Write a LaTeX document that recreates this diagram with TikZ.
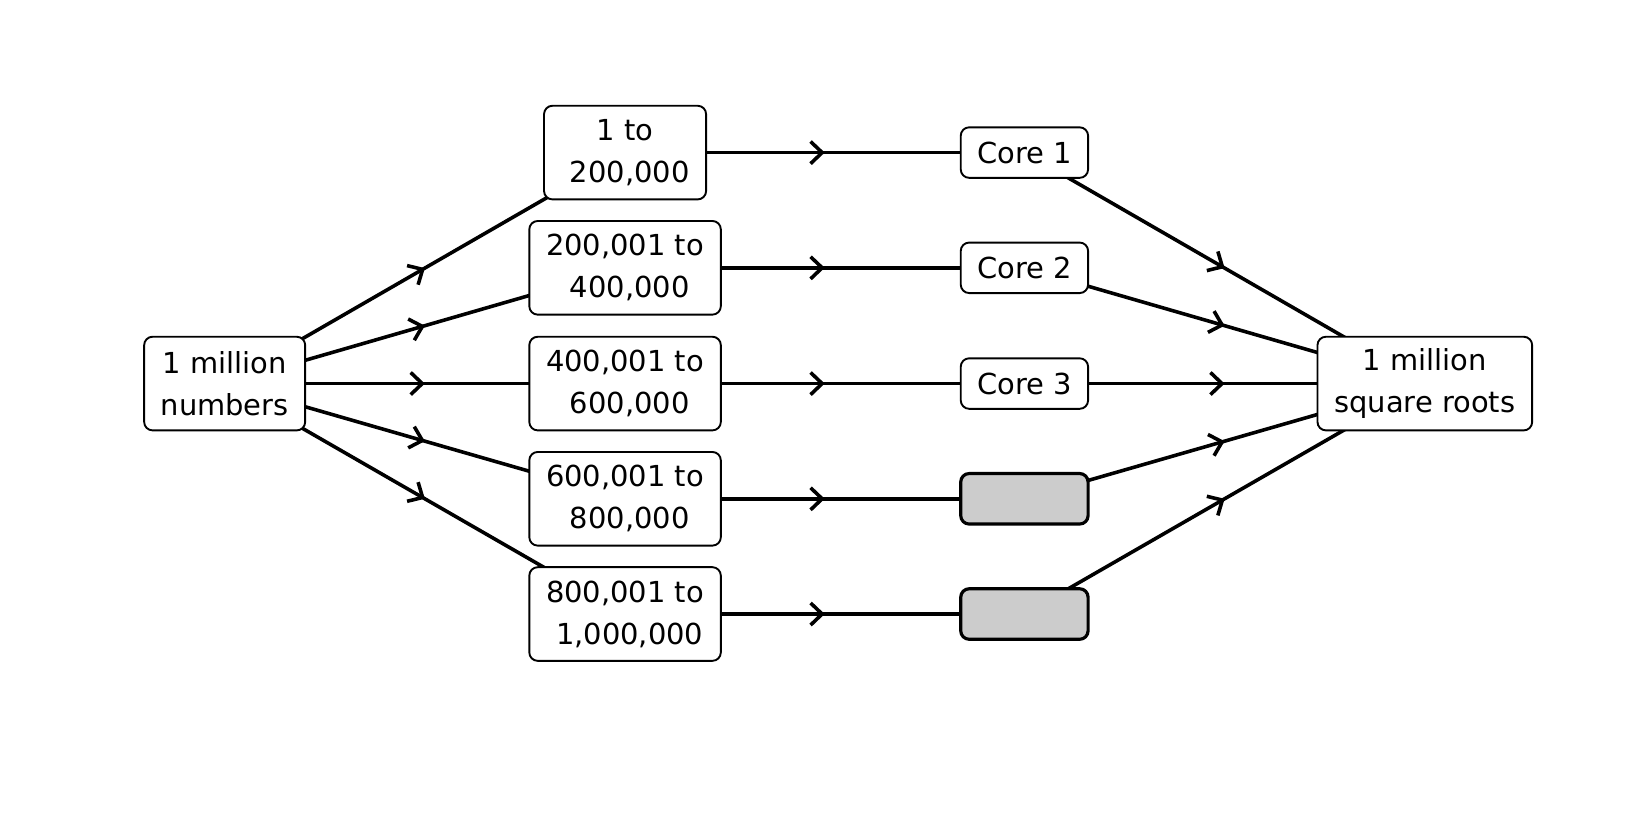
\documentclass[tikz,border=0pt]{standalone}
\usepackage{fontspec}
\setmainfont{DejaVu Sans}
\usetikzlibrary{arrows.meta,decorations.markings}
\pgfdeclarelayer{background}
\pgfsetlayers{background,main}
\definecolor{boxgray}{RGB}{204,204,204}
\tikzset{
  box/.style={draw, line width=1.8pt, rounded corners=8pt, fill=white, inner sep=0pt,
    align=center, font=\fontsize{27.5pt}{40pt}\selectfont},
  rangebox/.style={box, minimum width=182pt, minimum height=89pt},
  corebox/.style={box, minimum width=121pt, minimum height=48pt},
  graybox/.style={corebox, fill=boxgray, line width=3pt},
  flow/.style={line width=3.4pt, postaction={decorate},
    decoration={markings, mark=at position 0.5 with {\arrow{Straight Barb[length=11pt,width=21pt]}}}}
}
\newcommand{\lead}{\hspace*{0.32em}}
\begin{document}
\begin{tikzpicture}[x=1pt,y=-1pt]
\useasboundingbox (0,0) rectangle (1568,784);
\node[box, minimum width=153pt, minimum height=89pt] (in) at (213.5,364.5) {1 million\\numbers};
\node[rangebox, minimum width=154pt] (r1) at (594,145) {1 to\\\lead 200,000};
\node[rangebox] (r2) at (594,254.5) {200,001 to\\\lead 400,000};
\node[rangebox] (r3) at (594,364.5) {400,001 to\\\lead 600,000};
\node[rangebox] (r4) at (594,474) {600,001 to\\\lead 800,000};
\node[rangebox] (r5) at (594,583.5) {800,001 to\\\lead 1,000,000};
\node[corebox] (c1) at (973.5,145) {Core 1};
\node[corebox] (c2) at (973.5,254.5) {Core 2};
\node[corebox] (c3) at (973.5,364.5) {Core 3};
\node[graybox] (c4) at (973.5,474) {};
\node[graybox] (c5) at (973.5,583.5) {};
\node[box, minimum width=204pt, minimum height=89pt] (out) at (1354,364.5) {1 million\\square roots};
\begin{pgfonlayer}{background}
\foreach \i in {1,...,5}{
  \draw[flow] (in.center) -- (r\i.center);
  \draw[flow] (r\i.center) -- (c\i.center);
  \draw[flow] (c\i.center) -- (out.center);
}
\end{pgfonlayer}
\end{tikzpicture}
\end{document}
